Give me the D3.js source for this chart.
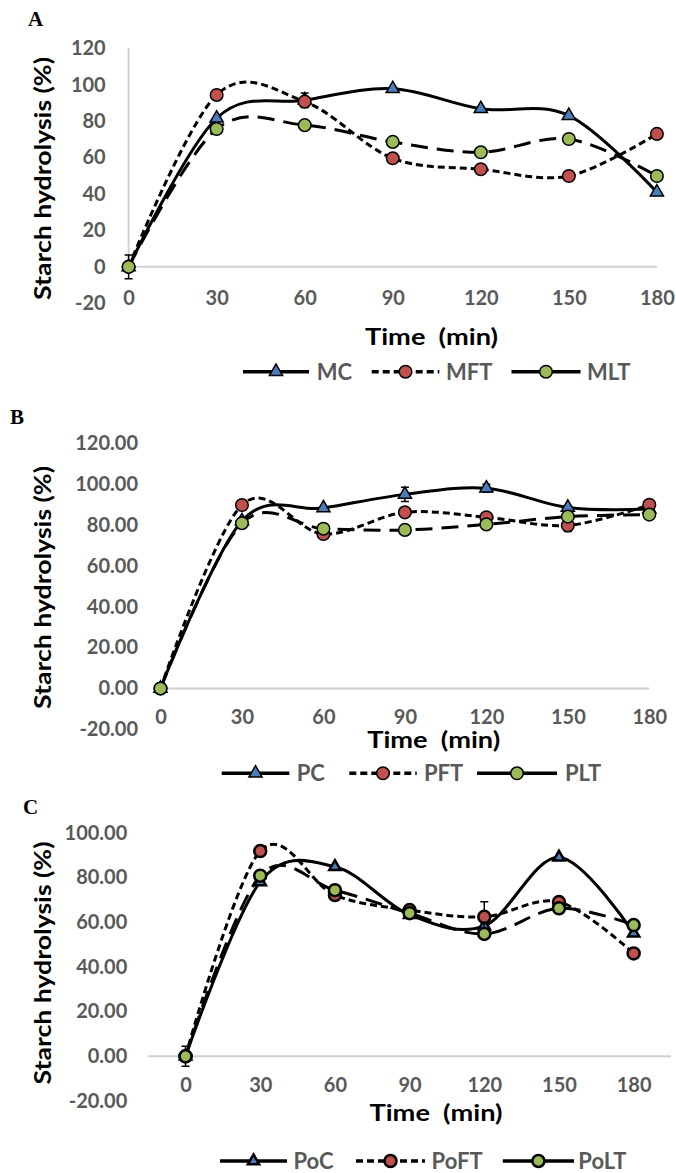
<!DOCTYPE html>
<html>
<head>
<meta charset="utf-8">
<script src="https://cdn.jsdelivr.net/npm/d3@7"></script>
<style>
body { margin: 0; background: #fff; }
svg text { font-family: Lato, "Open Sans", sans-serif; font-weight: 700; }
</style>
</head>
<body>
<svg id="chart" width="676" height="1173"></svg>
<script>

// time points (min)
var times = ["0", "30", "60", "90", "120", "150", "180"];

// panel A
var mcA  = [0, 81.6, 91.5, 97.8, 86.8, 83.0, 41.0];
var mftA = [0, 94.4, 90.7, 59.6, 53.6, 49.9, 73.0];
var mltA = [0, 75.7, 77.8, 68.6, 62.9, 70.2, 49.9];
var mcErrA  = [6.5, 0, 4, 0, 0, 0, 0];
var mftErrA = [0, 0, 0, 0, 0, 0, 0];
var mltErrA = [0, 0, 0, 0, 0, 0, 0];
var ticksA = [-20, 0, 20, 40, 60, 80, 100, 120];

// panel B
var pcB  = [0, 82.0, 88.3, 95.0, 98.0, 88.6, 87.8];
var pftB = [0, 89.8, 75.6, 86.2, 83.8, 79.8, 89.9];
var pltB = [0, 80.9, 78.2, 77.6, 80.3, 84.1, 85.1];
var pcErrB  = [2, 0, 0, 3.5, 2, 0, 0];
var pftErrB = [0, 0, 0, 0, 0, 3, 0];
var pltErrB = [0, 0, 0, 0, 0, 0, 0];
var ticksB = [-20, 0, 20, 40, 60, 80, 100, 120];

// panel C
var pocC  = [0, 78.0, 84.8, 63.3, 58.3, 89.0, 55.0];
var poftC = [0, 91.8, 72.1, 65.4, 62.4, 69.0, 46.0];
var poltC = [0, 80.8, 74.3, 64.0, 54.7, 66.2, 58.7];
var pocErrC  = [4.5, 0, 0, 0, 1.5, 0, 0];
var poftErrC = [0, 0, 0, 0, 6.7, 0, 0];
var poltErrC = [0, 0, 0, 0, 0, 0, 0];
var ticksC = [-20, 0, 20, 40, 60, 80, 100];

var seriesNamesA = ["MC", "MFT", "MLT"];
var seriesNamesB = ["PC", "PFT", "PLT"];
var seriesNamesC = ["PoC", "PoFT", "PoLT"];

var blue = "#4a7ebb", red = "#c0504d", green = "#9bbb59";
var styles = [
	{ dash: null,   shape: "tri",    fill: blue  },
	{ dash: "7,4",  shape: "circle", fill: red   },
	{ dash: "17,9", shape: "circle", fill: green }
];

var svg = d3.select("#chart");

function drawMarker(g, shape, fill, cx, cy, thick) {
	if (shape == "tri") {
		g.append("path")
			.attr("d", d3.symbol().type(d3.symbolTriangle).size(thick ? 55 : 75)())
			.attr("transform", "translate(" + cx + "," + cy + ")")
			.attr("fill", fill).attr("stroke", "#000").attr("stroke-width", thick ? 2.5 : 1.5);
	}
	else {
		g.append("circle")
			.attr("cx", cx).attr("cy", cy).attr("r", thick ? 6 : 6.3)
			.attr("fill", fill).attr("stroke", "#000").attr("stroke-width", thick ? 2.5 : 1.5);
	}
}

function drawPanel(p) {
	var g = svg.append("g");

	var x = d3.scalePoint().domain(times).range(p.xRange).padding(p.pad);
	var y = d3.scaleLinear().domain(p.yDomain).range(p.yRange);

	// panel letter
	g.append("text").attr("x", p.letterX).attr("y", p.letterY)
		.style("font-family", "'Liberation Serif', 'Times New Roman', serif")
		.attr("font-size", 21).attr("fill", "#000").text(p.letter);

	// zero line
	var x0 = p.pad ? p.xRange[0] : x(times[0]);
	var x1 = p.pad ? p.xRange[1] : x(times[times.length - 1]);
	g.append("line").attr("x1", x0).attr("x2", x1).attr("y1", y(0)).attr("y2", y(0))
		.attr("stroke", "#d0d0d0").attr("stroke-width", 2);

	if (p.vAxis) {
		g.append("line").attr("x1", x0).attr("x2", x0)
			.attr("y1", y(p.yDomain[1])).attr("y2", y(0))
			.attr("stroke", "#d0d0d0").attr("stroke-width", 2);
	}

	// y tick labels
	var ya = g.append("g").attr("transform", "translate(" + p.yLabelRight + ",0)")
		.call(d3.axisLeft(y).tickValues(p.ticks).tickFormat(p.fmt).tickSize(0).tickPadding(0));
	ya.select(".domain").remove();
	ya.selectAll("text").attr("font-size", 20).attr("fill", "#595959")
		.style("font-family", "Lato, sans-serif");

	// x tick labels
	var xa = g.append("g").attr("transform", "translate(0," + (p.xLabelY - 7) + ")")
		.call(d3.axisBottom(x).tickSize(0).tickPadding(0));
	xa.select(".domain").remove();
	xa.selectAll("text").attr("font-size", 20).attr("fill", "#595959")
		.style("font-family", "Lato, sans-serif");

	// axis titles
	g.append("text")
		.attr("transform", "translate(" + 51 + "," + p.yTitleY + ") rotate(-90)")
		.attr("text-anchor", "middle").attr("font-size", 23).attr("fill", "#000")
		.attr("textLength", 243).attr("lengthAdjust", "spacingAndGlyphs")
		.text("Starch hydrolysis (%)");

	g.append("text")
		.attr("x", p.xTitleX).attr("y", p.xTitleY + 8)
		.attr("text-anchor", "middle").attr("font-size", 23).attr("fill", "#000")
		.attr("textLength", 133).attr("lengthAdjust", "spacingAndGlyphs")
		.style("white-space", "pre")
		.text("Time  (min)");

	var line = d3.line()
		.x(function(d) { return x(d.t); })
		.y(function(d) { return y(d.v); })
		.curve(d3.curveCardinal.tension(0));

	p.series.forEach(function(vals, i) {
		var st = styles[i];
		var pts = times.map(function(t, k) { return { t: t, v: vals[k], e: p.errs[i][k] }; });

		g.append("path").datum(pts).attr("d", line)
			.attr("fill", "none").attr("stroke", "#000").attr("stroke-width", 3)
			.attr("stroke-dasharray", st.dash);

		// error bars
		pts.filter(function(d) { return d.e > 0; }).forEach(function(d) {
			var cx = x(d.t);
			g.append("path")
				.attr("d", "M" + (cx - 4) + "," + y(d.v + d.e) + "H" + (cx + 4) +
					"M" + cx + "," + y(d.v + d.e) + "V" + y(d.v - d.e) +
					"M" + (cx - 4) + "," + y(d.v - d.e) + "H" + (cx + 4))
				.attr("stroke", "#000").attr("stroke-width", 1.5).attr("fill", "none");
		});

		pts.forEach(function(d) {
			drawMarker(g, st.shape, st.fill, x(d.t), y(d.v), p.thick);
		});
	});

	// legend
	p.legend.forEach(function(L, i) {
		var st = styles[i];
		g.append("line").attr("x1", L[0]).attr("x2", L[1]).attr("y1", p.legendY).attr("y2", p.legendY)
			.attr("stroke", "#000").attr("stroke-width", 3.5)
			.attr("stroke-dasharray", i == 1 ? "7,4" : null);
		drawMarker(g, st.shape, st.fill, (L[0] + L[1]) / 2, p.legendY, p.thick);
		g.append("text").attr("x", L[2]).attr("y", p.legendY).attr("dy", "0.36em")
			.attr("font-size", 22).attr("fill", "#595959").text(p.names[i]);
	});
}

drawPanel({
	letter: "A", letterX: 28, letterY: 26,
	xRange: [128.6, 656.9], pad: 0,
	yDomain: [-20, 120], yRange: [303.3, 48.3],
	ticks: ticksA, fmt: function(d) { return String(d); },
	yLabelRight: 105.7, xLabelY: 298, vAxis: true,
	yTitleY: 178.5, xTitleX: 431.5, xTitleY: 337,
	series: [mcA, mftA, mltA], errs: [mcErrA, mftErrA, mltErrA],
	names: seriesNamesA, legendY: 371.7,
	legend: [[243, 309, 316.7], [371.7, 439.3, 446], [511.5, 580.5, 587]],
	thick: false
});

drawPanel({
	letter: "B", letterX: 10, letterY: 424,
	xRange: [160.5, 649.3], pad: 0,
	yDomain: [-20, 120], yRange: [729.3, 443.3],
	ticks: ticksB, fmt: function(d) { return d.toFixed(2); },
	yLabelRight: 138, xLabelY: 717, vAxis: false,
	yTitleY: 587.5, xTitleX: 433.7, xTitleY: 740,
	series: [pcB, pftB, pltB], errs: [pcErrB, pftErrB, pltErrB],
	names: seriesNamesB, legendY: 773.3,
	legend: [[221.7, 289.3, 296.7], [349.3, 416.7, 424], [477, 557, 565]],
	thick: false
});

drawPanel({
	letter: "C", letterX: 23, letterY: 814,
	xRange: [148.2, 671], pad: 0.5,
	yDomain: [-20, 100], yRange: [1101, 832.7],
	ticks: ticksC, fmt: function(d) { return d.toFixed(2); },
	yLabelRight: 127.3, xLabelY: 1085, vAxis: false,
	yTitleY: 963, xTitleX: 436, xTitleY: 1113,
	series: [pocC, poftC, poltC], errs: [pocErrC, poftErrC, poltErrC],
	names: seriesNamesC, legendY: 1161,
	legend: [[220, 287, 293.5], [356, 425, 431.6], [502.8, 574, 578.3]],
	thick: true
});

</script>
</body>
</html>
